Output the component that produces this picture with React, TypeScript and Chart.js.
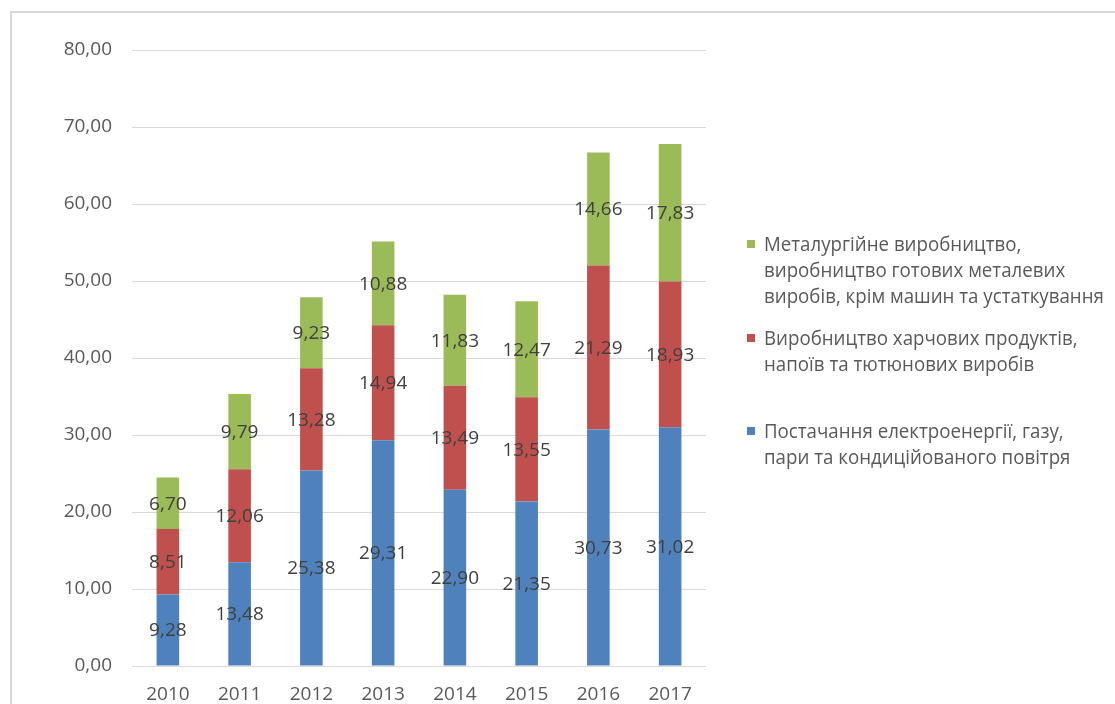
import React, { useEffect, useRef } from "react";
import { Chart, registerables } from "chart.js";

Chart.register(...registerables);

const years = ["2010", "2011", "2012", "2013", "2014", "2015", "2016", "2017"];
const energy = [9.28, 13.48, 25.38, 29.31, 22.9, 21.35, 30.73, 31.02];
const food = [8.51, 12.06, 13.28, 14.94, 13.49, 13.55, 21.29, 18.93];
const metal = [6.7, 9.79, 9.23, 10.88, 11.83, 12.47, 14.66, 17.83];

const energyName = ["Постачання електроенергії, газу,", "пари та кондиційованого повітря"];
const foodName = ["Виробництво харчових продуктів,", "напоїв та тютюнових виробів"];
const metalName = [
  "Металургійне виробництво,",
  "виробництво готових металевих",
  "виробів, крім машин та устаткування",
];

const FONT = "'Open Sans', 'Noto Sans', sans-serif";
const fmt = (v: number) => v.toFixed(2).replace(".", ",");

const dataLabels = {
  id: "dataLabels",
  afterDatasetsDraw(chart: any) {
    const ctx = chart.ctx;
    ctx.save();
    ctx.font = `19px ${FONT}`;
    ctx.fillStyle = "#404040";
    ctx.textAlign = "center";
    ctx.textBaseline = "middle";
    chart.data.datasets.forEach((ds: any, i: number) => {
      const meta = chart.getDatasetMeta(i);
      meta.data.forEach((el: any, j: number) => {
        const y = (el.y + el.base) / 2;
        ctx.fillText(fmt(ds.data[j]), el.x, y + 1);
      });
    });
    ctx.restore();
  },
};

const sideLegend = {
  id: "sideLegend",
  afterDraw(chart: any) {
    const ctx = chart.ctx;
    const area = chart.chartArea;
    const sq = area.right + 41;
    const tx = area.right + 58;
    const starts = [231, 325, 418];
    const lh = 26.3;
    ctx.save();
    ctx.font = `20px ${FONT}`;
    ctx.textBaseline = "middle";
    ctx.textAlign = "left";
    const order = [2, 1, 0];
    order.forEach((di, k) => {
      const ds = chart.data.datasets[di];
      const lines: string[] = ds.legendLines;
      const y0 = starts[k];
      ctx.fillStyle = ds.backgroundColor;
      ctx.fillRect(sq, y0 - 4, 8, 8);
      ctx.fillStyle = "#595959";
      lines.forEach((ln, li) => {
        const w = ctx.measureText(ln).width;
        const maxW = w * 0.935;
        ctx.fillText(ln, tx, y0 + li * lh + 1, maxW);
      });
    });
    ctx.restore();
  },
};

export default function App() {
  const ref = useRef<HTMLCanvasElement>(null);
  useEffect(() => {
    document.body.style.overflow = "hidden";
    const chart = new Chart(ref.current!, {
      type: "bar",
      data: {
        labels: years,
        datasets: [
          { label: energyName.join(" "), legendLines: energyName, data: energy, backgroundColor: "#4f81bd" } as any,
          { label: foodName.join(" "), legendLines: foodName, data: food, backgroundColor: "#c0504d" } as any,
          { label: metalName.join(" "), legendLines: metalName, data: metal, backgroundColor: "#9bbb59" } as any,
        ],
      },
      options: {
        responsive: false,
        animation: false,
        maintainAspectRatio: false,
        layout: { padding: { top: 37, right: 409, left: 0, bottom: 0 } },
        plugins: { legend: { display: false }, tooltip: { enabled: false } },
        datasets: { bar: { barPercentage: 1, categoryPercentage: 0.315 } },
        scales: {
          x: {
            stacked: true,
            grid: { display: false, drawTicks: false },
            border: { display: false },
            ticks: { color: "#595959", font: { family: FONT, size: 19 }, padding: 17 },
            afterFit: (s: any) => {
              s.height = 38;
            },
          },
          y: {
            stacked: true,
            min: 0,
            max: 80,
            grid: { color: "#d9d9d9", lineWidth: 1, drawTicks: false },
            border: { display: false },
            ticks: {
              stepSize: 10,
              color: "#595959",
              font: { family: FONT, size: 19 },
              padding: 20,
              callback: (v: any) => fmt(Number(v)),
            },
            afterFit: (s: any) => {
              s.width = 120;
            },
          },
        },
      },
      plugins: [dataLabels, sideLegend],
    });
    return () => chart.destroy();
  }, []);
  return (
    <div
      style={{
        position: "absolute",
        left: 10,
        top: 11,
        width: 1110,
        height: 700,
        borderTop: "2px solid #d9d9d9",
        borderLeft: "2px solid #d9d9d9",
        background: "#fff",
      }}
    >
      <canvas ref={ref} width={1103} height={691} style={{ display: "block" }} />
    </div>
  );
}
